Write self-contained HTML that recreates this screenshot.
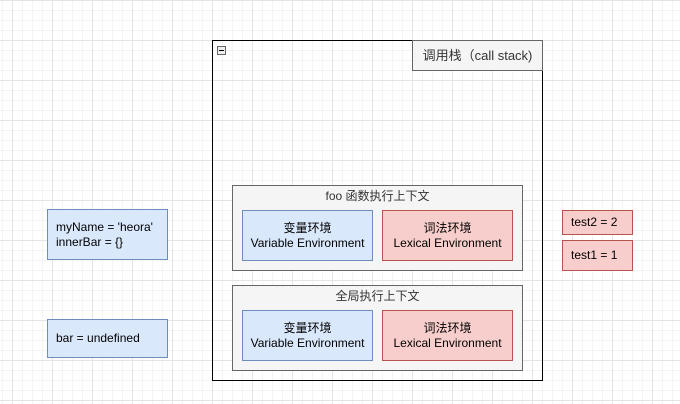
<!DOCTYPE html>
<html><head><meta charset="utf-8"><style>
body{margin:0;width:680px;height:404px;overflow:hidden;background:#fff;
background-image:
linear-gradient(to right,#e4e4e4 1px,transparent 1px),
linear-gradient(to bottom,#e4e4e4 1px,transparent 1px),
linear-gradient(to right,#f4f4f4 1px,transparent 1px),
linear-gradient(to bottom,#f4f4f4 1px,transparent 1px);
background-size:40px 40px,40px 40px,10px 10px,10px 10px;
background-position:12px 0,0 0,2px 0,0 0;
font-family:"Liberation Sans","Noto Sans CJK SC",sans-serif;font-size:12px;color:#000;position:relative}
.b{position:absolute;box-sizing:border-box;display:flex;align-items:center;justify-content:center;text-align:center;line-height:15px}
.blue{background:#dae8fc;border:1px solid #6c8ebf}
.red{background:#f8cecc;border:1px solid #b85450}
.gray{background:#f5f5f5;border:1px solid #666}
</style></head><body>
<div class="b" style="left:212px;top:40px;width:331px;height:341px;border:1px solid #000;background:transparent"></div>
<div class="b gray" style="left:412px;top:40px;width:131px;height:31px;color:#333;font-size:13px">调用栈（call stack)</div>
<div style="position:absolute;left:217px;top:46px;width:7px;height:7px;border:1px solid #666;background:#eee"><div style="position:absolute;left:1px;top:3px;width:5px;height:1px;background:#000"></div></div>

<div class="b gray" style="left:232px;top:185px;width:291px;height:86px;align-items:flex-start;padding-top:3px;color:#333">foo 函数执行上下文</div>
<div class="b blue" style="left:242px;top:210px;width:131px;height:51px">变量环境<br>Variable Environment</div>
<div class="b red" style="left:382px;top:210px;width:131px;height:51px">词法环境<br>Lexical Environment</div>

<div class="b gray" style="left:232px;top:285px;width:291px;height:86px;align-items:flex-start;padding-top:3px;color:#333">全局执行上下文</div>
<div class="b blue" style="left:242px;top:310px;width:131px;height:51px">变量环境<br>Variable Environment</div>
<div class="b red" style="left:382px;top:310px;width:131px;height:51px">词法环境<br>Lexical Environment</div>

<div class="b blue" style="left:47px;top:209px;width:121px;height:51px;justify-content:flex-start;text-align:left;padding-left:8px">myName = 'heora'<br>innerBar = {}</div>
<div class="b blue" style="left:47px;top:319px;width:121px;height:39px;justify-content:flex-start;padding-left:8px">bar = undefined</div>

<div class="b red" style="left:562px;top:210px;width:71px;height:25px;justify-content:flex-start;padding-left:8px">test2 = 2</div>
<div class="b red" style="left:562px;top:240px;width:71px;height:31px;justify-content:flex-start;padding-left:8px">test1 = 1</div>
</body></html>
